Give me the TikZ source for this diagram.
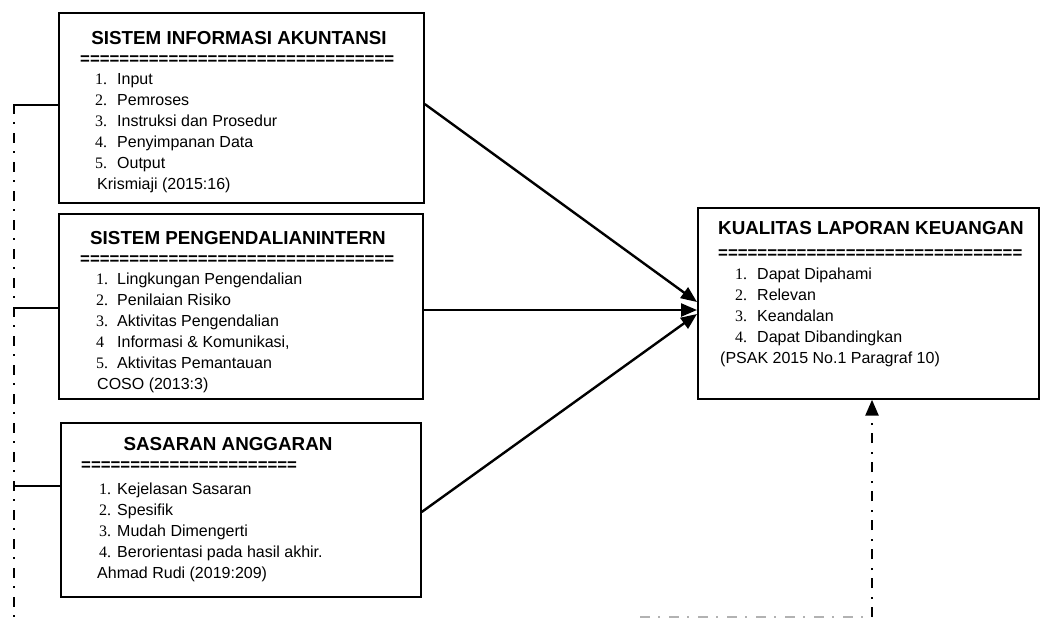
\documentclass[tikz,border=0pt]{standalone}
\usepackage{fontspec}
\setmainfont{Liberation Sans}
\newfontfamily\numfont{Liberation Serif}
\usetikzlibrary{arrows.meta,calc}
\newcommand{\eqrow}[1]{\foreach \i in {1,...,#1}{=}}
\tikzset{
  box/.style={draw, line width=1.4pt, inner sep=0pt},
  ttl/.style={anchor=base, inner sep=0pt, font=\fontsize{18.8}{22}\selectfont\bfseries},
  eqs/.style={anchor=base west, inner sep=0pt, font=\fontsize{16.8}{20}\selectfont\bfseries},
  num/.style={anchor=base west, inner sep=0pt, font=\fontsize{16}{19}\selectfont\numfont},
  itm/.style={anchor=base west, inner sep=0pt, font=\fontsize{16}{19}\selectfont},
  link/.style={line width=2.4pt},
  arr/.style={line width=2.4pt, -{Triangle[length=16pt,width=13pt]}},
  dd/.style={line width=2.6pt, dash pattern=on 10pt off 8pt on 2pt off 9pt},
}
\begin{document}
\begin{tikzpicture}[x=1pt,y=-1pt]
\useasboundingbox (0,0) rectangle (1041,619);
% boxes
\node[box, minimum width=365pt, minimum height=190pt] (b1) at (241.5,108) {};
\node[box, minimum width=364pt, minimum height=185pt] (b2) at (241,306.5) {};
\node[box, minimum width=360pt, minimum height=174pt] (b3) at (241,510) {};
\node[box, minimum width=341pt, minimum height=191pt] (t) at (868.5,303.5) {};
% box 1
\node[ttl] (b1t) at (239,44) {SISTEM INFORMASI AKUNTANSI};
\node[eqs] (b1e) at (80,64) {\eqrow{32}};
\node[num] (b1n1) at (95,84) {1.};  \node[itm] (b1i1) at (117,84) {Input};
\node[num] (b1n2) at (95,105) {2.}; \node[itm] (b1i2) at (117,105) {Pemroses};
\node[num] (b1n3) at (95,126) {3.}; \node[itm] (b1i3) at (117,126) {Instruksi dan Prosedur};
\node[num] (b1n4) at (95,147) {4.}; \node[itm] (b1i4) at (117,147) {Penyimpanan Data};
\node[num] (b1n5) at (95,168) {5.}; \node[itm] (b1i5) at (117,168) {Output};
\node[itm] (b1c) at (97,189) {Krismiaji (2015:16)};
% box 2
\node[ttl] (b2t) at (238,244) {SISTEM PENGENDALIANINTERN};
\node[eqs] (b2e) at (80,264) {\eqrow{32}};
\node[num] (b2n1) at (96,284) {1.}; \node[itm] (b2i1) at (117,284) {Lingkungan Pengendalian};
\node[num] (b2n2) at (96,305) {2.}; \node[itm] (b2i2) at (117,305) {Penilaian Risiko};
\node[num] (b2n3) at (96,326) {3.}; \node[itm] (b2i3) at (117,326) {Aktivitas Pengendalian};
\node[num] (b2n4) at (96,347) {4};  \node[itm] (b2i4) at (117,347) {Informasi \& Komunikasi,};
\node[num] (b2n5) at (96,368) {5.}; \node[itm] (b2i5) at (117,368) {Aktivitas Pemantauan};
\node[itm] (b2c) at (97,389) {COSO (2013:3)};
% box 3
\node[ttl] (b3t) at (228,450) {SASARAN ANGGARAN};
\node[eqs] (b3e) at (81,470) {\eqrow{22}};
\node[num] (b3n1) at (99,494) {1.}; \node[itm] (b3i1) at (117,494) {Kejelasan Sasaran};
\node[num] (b3n2) at (99,515) {2.}; \node[itm] (b3i2) at (117,515) {Spesifik};
\node[num] (b3n3) at (99,536) {3.}; \node[itm] (b3i3) at (117,536) {Mudah Dimengerti};
\node[num] (b3n4) at (99,557) {4.}; \node[itm] (b3i4) at (117,557) {Berorientasi pada hasil akhir.};
\node[itm] (b3c) at (97,578) {Ahmad Rudi (2019:209)};
% target
\node[ttl] (tt) at (871,234) {KUALITAS LAPORAN KEUANGAN};
\node[eqs] (te) at (718,258) {\eqrow{31}};
\node[num] (tn1) at (735,279) {1.}; \node[itm] (ti1) at (757,279) {Dapat Dipahami};
\node[num] (tn2) at (735,300) {2.}; \node[itm] (ti2) at (757,300) {Relevan};
\node[num] (tn3) at (735,321) {3.}; \node[itm] (ti3) at (757,321) {Keandalan};
\node[num] (tn4) at (735,342) {4.}; \node[itm] (ti4) at (757,342) {Dapat Dibandingkan};
\node[itm] (tc) at (720,363) {(PSAK 2015 No.1 Paragraf 10)};
% arrows
\coordinate (a1) at (697,302);
\coordinate (a2) at (697,310);
\coordinate (a3) at (697,314);
\draw[arr] ($(b1.east)+(0,-4)$) -- (a1);
\draw[arr] ($(b2.east)+(0,3.5)$) -- (a2);
\draw[arr] ($(b3.east)+(0,2)$) -- (a3);
% left dash-dot line and links
\coordinate (Ltop) at (14,104);
\coordinate (Lbot) at (14,619);
\draw[dd] (Ltop) -- (Lbot);
\draw[link] (14,105) -- (b1.west |- 0,105);
\draw[link] (14,308) -- (b2.west |- 0,308);
\draw[link] (14,486) -- (b3.west |- 0,486);
% bottom right dash-dot
\coordinate (Bl) at (640,617);
\coordinate (Br) at (872,617);
\draw[dd, gray!60] (Bl) -- (Br);
\draw[dd, -{Triangle[length=16pt,width=13pt]}] (Br) -- (t.south -| Br);
\end{tikzpicture}
\end{document}
